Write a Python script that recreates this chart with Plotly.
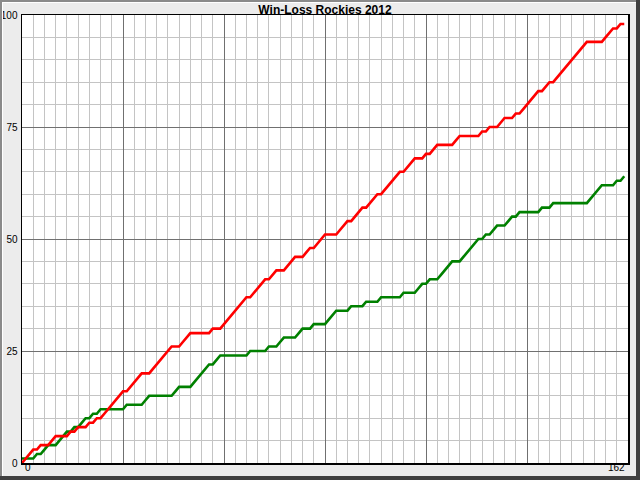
import numpy as np
import plotly.graph_objects as go

title_text = "Win-Loss Rockies 2012"
# Game-by-game results (W = win, L = loss), 162 games
results_blocks = [
    "WLLLWLWWLLWWWLWLWWLWLWLLLLL",
    "LWLLLLWWLLLLLLWWLLLWWWWWLWW",
    "LLLLLLLWLLLLWLLWWLLLWWLLWLL",
    "LWWWLLLWLLLWLLLWLLLLLWLLLWW",
    "LWLLWWWWLLWWWWWLWLWWLLWWLWL",
    "LLLLWLLWLLLLLLLLLWWWWLLLWLW",
]
results = "".join(results_blocks)
games = list(range(len(results)))
wins = np.cumsum([1 if r == "W" else 0 for r in results])
losses = np.cumsum([1 if r == "L" else 0 for r in results])

y_ticks = [0, 25, 50, 75, 100]
x_labels = ["0", "162"]
x_label_pos = [0, 162]

# geometry (pixels)
W_PX, H_PX = 640, 480
ML, MR, MT, MB = 22, 12, 15, 17
PW = W_PX - ML - MR
PH = H_PX - MT - MB

def px(xp):
    return (xp - ML) / PW

def py(yp):
    return (H_PX - MB - yp) / PH

fig = go.Figure()
fig.add_trace(go.Scatter(x=games, y=wins, mode="lines",
                         line=dict(color="#008000", width=2.6), name="Wins"))
fig.add_trace(go.Scatter(x=games, y=losses, mode="lines",
                         line=dict(color="#FF0000", width=2.6), name="Losses"))

shapes = []
def rect(x0, y0, x1, y1, color):
    shapes.append(dict(type="rect", xref="paper", yref="paper",
                       x0=px(x0), x1=px(x1), y0=py(y1), y1=py(y0),
                       fillcolor=color, line=dict(width=0), layer="above"))

# window-like frame
rect(0, 0, 640, 2, "#8A8A8A")
rect(0, 0, 2, 480, "#8A8A8A")
rect(2, 2, 636, 3, "#FFFFFF")
rect(2, 2, 3, 476, "#FFFFFF")
rect(636, 0, 640, 480, "#404040")
rect(0, 476, 640, 480, "#404040")

annotations = []
for lbl, pos, anchor in zip(x_labels, x_label_pos, ["left", "right"]):
    annotations.append(dict(x=pos, y=py(468), xref="x", yref="paper", text=lbl,
                            showarrow=False, xanchor=anchor, yanchor="middle",
                            xshift=1 if anchor == "left" else -1,
                            font=dict(family="Liberation Sans, Arial", size=10, color="black")))

fig.update_layout(
    width=W_PX, height=H_PX,
    margin=dict(l=ML, r=MR, t=MT, b=MB, pad=0, autoexpand=False),
    paper_bgcolor="#ECECEC", plot_bgcolor="white",
    showlegend=False, hovermode=False,
    title=dict(text="<b>" + title_text + "</b>", x=325 / 640, y=1 - 10 / 480,
               xref="container", yref="container",
               xanchor="center", yanchor="middle",
               font=dict(family="Liberation Sans, Arial", size=12, color="black")),
    shapes=shapes, annotations=annotations,
)
fig.update_xaxes(range=[0, 162], tick0=0, dtick=27, showticklabels=False, ticks="",
                 automargin=False,
                 showgrid=True, gridcolor="#707070", gridwidth=1,
                 minor=dict(dtick=3, tick0=0, showgrid=True, gridcolor="#C4C4C4", gridwidth=1),
                 zeroline=False, showline=True, linecolor="black", linewidth=1.5, mirror=True)
fig.update_yaxes(range=[0, 100], tickmode="array", tickvals=y_ticks,
                 ticktext=[str(v) for v in y_ticks], ticks="", automargin=False,
                 tickfont=dict(family="Liberation Sans, Arial", size=10, color="black"),
                 showgrid=True, gridcolor="#707070", gridwidth=1,
                 minor=dict(dtick=5, tick0=0, showgrid=True, gridcolor="#C4C4C4", gridwidth=1),
                 zeroline=False, showline=True, linecolor="black", linewidth=1.5, mirror=True,
                 ticklabelstandoff=1)

fig.write_html("out.html", config={"displayModeBar": False, "staticPlot": True})

# remove the default page margin so the 640x480 figure fills the window exactly
with open("out.html", "r", encoding="utf-8") as f:
    html = f.read()
html = html.replace("<head>", "<head><style>html,body{margin:0;padding:0;overflow:hidden;}</style>", 1)
with open("out.html", "w", encoding="utf-8") as f:
    f.write(html)
